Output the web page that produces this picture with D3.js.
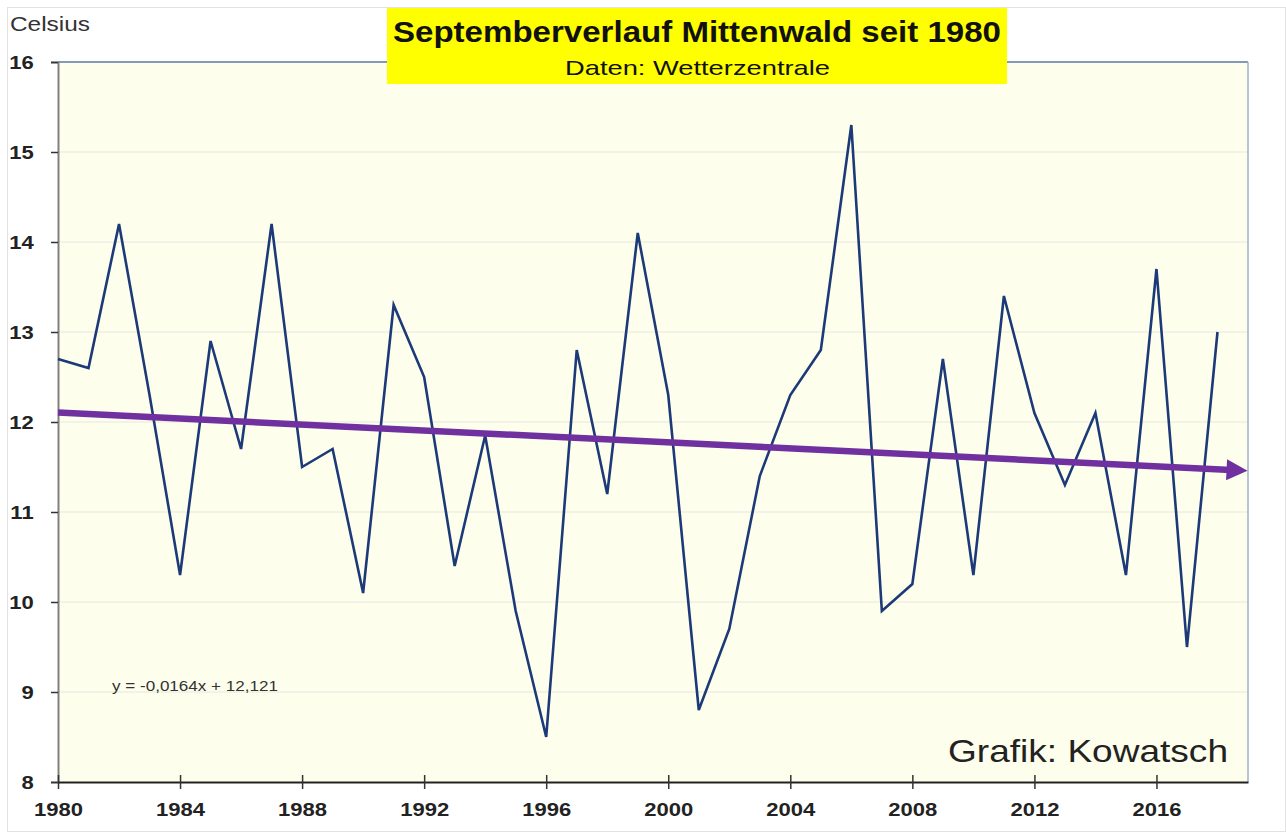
<!DOCTYPE html>
<html>
<head>
<meta charset="utf-8">
<script src="https://cdn.jsdelivr.net/npm/d3@7"></script>
<style>
  body { margin: 0; background: #fff; }
  svg { display: block; font-family: Arial, "Liberation Sans", sans-serif; }
</style>
</head>
<body>
<script>
// September mean temperature, Mittenwald
var years = d3.range(1980, 2019);
var temps = [12.7, 12.6, 14.2, 12.3, 10.3, 12.9, 11.7, 14.2, 11.5, 11.7,
             10.1, 13.3, 12.5, 10.4, 11.85, 9.9, 8.5, 12.8, 11.2, 14.1,
             12.3, 8.8, 9.7, 11.4, 12.3, 12.8, 15.3, 9.9, 10.2, 12.7,
             10.3, 13.4, 12.1, 11.3, 12.1, 10.3, 13.7, 9.5, 13.0];
var yTicks = [8, 9, 10, 11, 12, 13, 14, 15, 16];
var xTicks = [1980, 1984, 1988, 1992, 1996, 2000, 2004, 2008, 2012, 2016];

// trend line y = -0,0164x + 12,121 (x = 1 for 1980)
var trendSlope = -0.0164;
var trendIntercept = 12.121;
var trendEnd = 2019;

var width = 1286, height = 832;
var margin = {left: 58, right: 38, top: 62, bottom: 50};
var stretch = 1.16; // source picture is slightly stretched horizontally

var svg = d3.select("body").append("svg")
    .attr("width", width)
    .attr("height", height);

// faint outer frame
svg.append("rect")
    .attr("x", 7.5).attr("y", 7.5)
    .attr("width", width - 8).attr("height", height - 8)
    .attr("fill", "none")
    .attr("stroke", "#e2e2e2");

var xScale = d3.scaleLinear()
    .domain([1980, 2019])
    .range([margin.left, width - margin.right]);

var yScale = d3.scaleLinear()
    .domain([8, 16])
    .range([height - margin.bottom, margin.top]);

// plot background
svg.append("rect")
    .attr("x", xScale(1980)).attr("y", yScale(16))
    .attr("width", xScale(2019) - xScale(1980))
    .attr("height", yScale(8) - yScale(16))
    .attr("fill", "#fefeec");

// gridlines
svg.append("g").selectAll("line")
    .data(yTicks.slice(1, -1)).enter()
    .append("line")
    .attr("x1", xScale(1980)).attr("x2", xScale(2019))
    .attr("y1", function (d) { return yScale(d); })
    .attr("y2", function (d) { return yScale(d); })
    .attr("stroke", "#e6e6df")
    .attr("stroke-width", 1.2);

// top and right borders
svg.append("line")
    .attr("x1", xScale(1980)).attr("x2", xScale(2019))
    .attr("y1", yScale(16)).attr("y2", yScale(16))
    .attr("stroke", "#5b78a6").attr("stroke-width", 1.5);
svg.append("line")
    .attr("x1", xScale(2019)).attr("x2", xScale(2019))
    .attr("y1", yScale(16)).attr("y2", yScale(8))
    .attr("stroke", "#9fb1cf").attr("stroke-width", 1.5);

// Y axis
var yAxis = d3.axisLeft(yScale)
    .tickValues(yTicks)
    .tickSize(7)
    .tickPadding(14)
    .tickFormat(d3.format("d"));

var gy = svg.append("g")
    .attr("transform", "translate(" + xScale(1980) + ",0)")
    .call(yAxis);
gy.select(".domain").attr("stroke", "#808080").attr("stroke-width", 2);
gy.selectAll(".tick line").attr("stroke", "#333").attr("stroke-width", 1.5);
gy.selectAll("text")
    .attr("fill", "#222")
    .attr("transform", "scale(" + stretch + ",1)")
    .style("font-size", "19px")
    .style("font-weight", "bold");

// X axis
var xAxis = d3.axisBottom(xScale)
    .tickValues(xTicks)
    .tickSizeInner(7)
    .tickSizeOuter(0)
    .tickPadding(14)
    .tickFormat(d3.format("d"));

var gx = svg.append("g")
    .attr("transform", "translate(0," + yScale(8) + ")")
    .call(xAxis);
gx.select(".domain").attr("stroke", "#222").attr("stroke-width", 2);
gx.selectAll(".tick line")
    .attr("y1", -7)
    .attr("stroke", "#333").attr("stroke-width", 1.5);
gx.selectAll("text")
    .attr("fill", "#222")
    .attr("transform", "scale(" + stretch + ",1)")
    .style("font-size", "19px")
    .style("font-weight", "bold");

// data line
var line = d3.line()
    .x(function (d, i) { return xScale(years[i]); })
    .y(function (d) { return yScale(d); });

svg.append("path")
    .datum(temps)
    .attr("d", line)
    .attr("fill", "none")
    .attr("stroke", "#1c3a78")
    .attr("stroke-width", 2.6)
    .attr("stroke-linejoin", "miter");

// trend arrow
svg.append("defs").append("marker")
    .attr("id", "arrow")
    .attr("viewBox", "0 0 10 10")
    .attr("refX", 4.5).attr("refY", 5)
    .attr("markerWidth", 22).attr("markerHeight", 21)
    .attr("markerUnits", "userSpaceOnUse")
    .attr("orient", "auto")
    .append("path")
    .attr("d", "M0,0 L10,5 L0,10 Z")
    .attr("fill", "#7030a0");

var trendYears = [1980, trendEnd];
var trendValues = trendYears.map(function (y) {
    return trendSlope * (y - 1979) + trendIntercept;
});

svg.append("line")
    .attr("x1", xScale(trendYears[0]))
    .attr("y1", yScale(trendValues[0]))
    .attr("x2", xScale(trendYears[1]) - 12)
    .attr("y2", yScale(trendValues[1]))
    .attr("stroke", "#7030a0")
    .attr("stroke-width", 6.5)
    .attr("marker-end", "url(#arrow)");

// equation
svg.append("text")
    .attr("x", 112).attr("y", 691)
    .attr("fill", "#333")
    .attr("textLength", 166)
    .attr("lengthAdjust", "spacingAndGlyphs")
    .style("font-size", "14px")
    .text("y = -0,0164x + 12,121");

// credit
svg.append("text")
    .attr("x", 948).attr("y", 762)
    .attr("fill", "#222")
    .attr("textLength", 280)
    .attr("lengthAdjust", "spacingAndGlyphs")
    .style("font-size", "32px")
    .text("Grafik: Kowatsch");

// axis unit
svg.append("text")
    .attr("x", 10).attr("y", 31)
    .attr("fill", "#333")
    .attr("textLength", 80)
    .attr("lengthAdjust", "spacingAndGlyphs")
    .style("font-size", "20px")
    .text("Celsius");

// title box
svg.append("rect")
    .attr("x", 387).attr("y", 8)
    .attr("width", 620).attr("height", 76)
    .attr("fill", "#ffff00");

svg.append("text")
    .attr("x", 393).attr("y", 42)
    .attr("fill", "#111")
    .attr("textLength", 608)
    .attr("lengthAdjust", "spacingAndGlyphs")
    .style("font-size", "30px")
    .style("font-weight", "bold")
    .text("Septemberverlauf Mittenwald seit 1980");

svg.append("text")
    .attr("x", 565).attr("y", 75)
    .attr("fill", "#111")
    .attr("textLength", 265)
    .attr("lengthAdjust", "spacingAndGlyphs")
    .style("font-size", "21px")
    .text("Daten: Wetterzentrale");
</script>
</body>
</html>
